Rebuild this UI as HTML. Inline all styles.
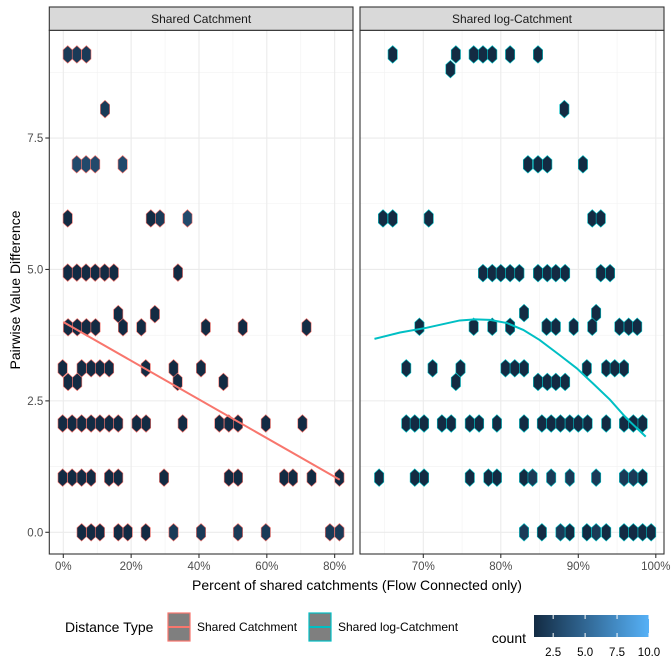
<!DOCTYPE html>
<html><head><meta charset="utf-8"><style>
body{margin:0;background:#fff;}
svg{display:block;font-family:"Liberation Sans",Arial,sans-serif;}
</style></head><body>
<svg id="chart" width="672" height="672" viewBox="0 0 672 672">
<rect width="672" height="672" fill="#fff"/>
<g id="layer"></g>
</svg>
<script>
// ---- data ----
const leftX = [1.3,4.0,6.8, 12.3, 3.95,6.7,9.4,17.5, 1.3,25.8,28.5,36.6,
 1.3,4.0,6.7,9.4,12.2,14.9,33.8, 16.2,27.0,
 1.4,4.1,6.8,9.5,17.6,23.0,42.0,52.9,71.7,
 -0.2,5.4,8.2,10.8,13.5,24.3,32.5,40.6, 1.4,4.1,33.7,47.2,
 -0.2,2.6,5.4,8.2,10.8,13.5,16.2,21.6,24.4,35.2,46.0,48.8,51.5,59.7,70.5,
 -0.2,2.6,5.4,8.2,13.5,16.2,29.7,48.8,51.5,65.1,67.7,73.2,81.4,
 5.4,8.2,10.8,16.2,19.0,24.3,32.5,40.6,51.5,59.7,78.6,81.4];
const leftY = [9.09,9.09,9.09, 8.05, 7.0,7.0,7.0,7.0, 5.97,5.97,5.97,5.97,
 4.94,4.94,4.94,4.94,4.94,4.94,4.94, 4.15,4.15,
 3.9,3.9,3.9,3.9,3.9,3.9,3.9,3.9,3.9,
 3.12,3.12,3.12,3.12,3.12,3.12,3.12,3.12, 2.86,2.86,2.86,2.86,
 2.07,2.07,2.07,2.07,2.07,2.07,2.07,2.07,2.07,2.07,2.07,2.07,2.07,2.07,2.07,
 1.04,1.04,1.04,1.04,1.04,1.04,1.04,1.04,1.04,1.04,1.04,1.04,1.04,
 0,0,0,0,0,0,0,0,0,0,0,0];
const leftCount = [2,2,2, 2, 3,3,3,3, 1,1,2,3,
 1,1,1,1,1,1,1, 1,1,
 1,1,1,1,1,1,1,1,1,
 1,1,1,1,1,1,1,1, 1,1,1,1,
 1,1,1,1,1,1,1,1,1,1,1,1,1,1,1,
 1,1,1,1,1,1,1,1,1,1,1,1,1,
 1,1,1,1,1,1,2,2,2,2,2,2];
const rightX = [66.05,74.2,76.5,77.7,78.9,81.2,84.8, 73.5, 88.2, 83.5,84.8,86.0,90.6,
 64.8,66.05,70.7,91.8,92.9,
 77.7,78.9,80.0,81.2,82.4,84.8,86.0,87.1,88.3,92.9,94.1,
 83.0,92.3,
 69.5,76.5,78.9,81.2,85.9,87.1,89.4,91.8,95.3,96.5,97.6,
 67.8,71.2,74.8,80.6,81.8,83.0,91.1,93.6,94.7,95.9,
 74.2,84.8,86.0,87.1,88.3,
 67.8,68.9,70.1,72.4,73.6,76.0,77.2,79.5,83.0,85.3,86.5,87.7,88.9,90.0,91.2,93.6,95.9,97.1,98.3,
 64.3,68.9,70.1,76.0,78.4,79.5,83.0,84.1,86.5,88.9,92.3,95.9,97.1,98.3,
 83.0,85.3,87.7,88.9,91.1,92.3,93.6,95.9,97.1,98.3,99.4];
const rightY = [9.09,9.09,9.09,9.09,9.09,9.09,9.09, 8.81, 8.05, 7.0,7.0,7.0,7.0,
 5.97,5.97,5.97,5.97,5.97,
 4.93,4.93,4.93,4.93,4.93,4.93,4.93,4.93,4.93,4.93,4.93,
 4.17,4.17,
 3.91,3.91,3.91,3.91,3.91,3.91,3.91,3.91,3.91,3.91,3.91,
 3.12,3.12,3.12,3.12,3.12,3.12,3.12,3.12,3.12,3.12,
 2.86,2.86,2.86,2.86,2.86,
 2.07,2.07,2.07,2.07,2.07,2.07,2.07,2.07,2.07,2.07,2.07,2.07,2.07,2.07,2.07,2.07,2.07,2.07,2.07,
 1.04,1.04,1.04,1.04,1.04,1.04,1.04,1.04,1.04,1.04,1.04,1.04,1.04,1.04,
 0,0,0,0,0,0,0,0,0,0,0];
const rightCount = [1,1,1,1,1,1,1, 1, 1, 1,1,1,1,
 1,1,1,1,1,
 1,1,1,1,1,1,1,1,1,1,1,
 1,1,
 1,1,1,1,1,1,1,1,1,1,1,
 1,1,1,1,1,1,1,1,1,1,
 1,1,1,1,1,
 1,1,1,1,1,1,1,1,1,1,1,1,1,1,1,1,1,1,1,
 1,1,1,1,1,1,1,2,2,2,2,2,2,1,
 2,1,2,1,1,2,1,1,1,1,1];
const fitLeftX = [0, 81.5];
const fitLeftY = [4.0, 1.0];
const loessX = [63.7,67.0,70.4,74.7,76.7,78.6,80.8,82.9,85.0,87.6,89.8,91.9,94.1,96.2,98.7];
const loessY = [3.68,3.8,3.89,4.03,4.05,4.04,3.98,3.85,3.66,3.37,3.12,2.83,2.52,2.17,1.82];
const yTicks = [0,2.5,5,7.5];
const yTickLabels = ["0.0","2.5","5.0","7.5"];
const leftXTicks = [0,20,40,60,80];
const leftXTickLabels = ["0%","20%","40%","60%","80%"];
const rightXTicks = [70,80,90,100];
const rightXTickLabels = ["70%","80%","90%","100%"];
const countTicks = [2.5,5,7.5,10];
const countTickLabels = ["2.5","5.0","7.5","10.0"];

// ---- scales ----
const PT=30.3, PB=554;
const L={x0:49.3,x1:353,sx:p=>63.3+p*3.392};
const R={x0:360,x1:664,sx:p=>423.3+(p-70)*7.75};
const sy=v=>532.3-v*52.57;
const NS="http://www.w3.org/2000/svg";
const layer=document.getElementById('layer');
function mk(tag,attrs,parent){const e=document.createElementNS(NS,tag);for(const k in attrs)e.setAttribute(k,attrs[k]);(parent||layer).appendChild(e);return e;}
function col(c){const t=Math.max(0,Math.min(1,(c-1)/9));const a=[19,43,67],b=[86,177,247];return `rgb(${a.map((v,i)=>Math.round(v+(b[i]-v)*t)).join(',')})`;}
function hex(cx,cy){const w=4.65,h=8.8,s=4.5;return `${cx},${cy-h} ${cx+w},${cy-s} ${cx+w},${cy+s} ${cx},${cy+h} ${cx-w},${cy+s} ${cx-w},${cy-s}`;}

function panel(P,name,title,xs,ys,cs,stroke,majors,minors,xt,xtl){
  const g=mk('g',{});
  
  
  mk('rect',{x:P.x0,y:PT,width:P.x1-P.x0,height:PB-PT,fill:'#fff'},g);
  [1.25,3.75,6.25,8.75].forEach(v=>mk('line',{x1:P.x0,x2:P.x1,y1:sy(v),y2:sy(v),stroke:'#f2f2f2','stroke-width':0.6},g));
  minors.forEach(v=>mk('line',{x1:P.sx(v),x2:P.sx(v),y1:PT,y2:PB,stroke:'#f2f2f2','stroke-width':0.6},g));
  yTicks.forEach(v=>mk('line',{x1:P.x0,x2:P.x1,y1:sy(v),y2:sy(v),stroke:'#ebebeb','stroke-width':1.1},g));
  majors.forEach(v=>mk('line',{x1:P.sx(v),x2:P.sx(v),y1:PT,y2:PB,stroke:'#ebebeb','stroke-width':1.1},g));
  for(let i=0;i<xs.length;i++){
    const h=mk('polygon',{points:hex(P.sx(xs[i]),sy(ys[i])),fill:col(cs[i]),stroke:stroke,'stroke-width':0.6},g);
    
    
  }
  mk('rect',{x:P.x0,y:PT,width:P.x1-P.x0,height:PB-PT,fill:'none',stroke:'#333','stroke-width':1.1},g);
  const st=mk('rect',{x:P.x0,y:7,width:P.x1-P.x0,height:PT-7,fill:'#d9d9d9',stroke:'#333','stroke-width':1.1},g);
  
  
  const tt=mk('text',{x:(P.x0+P.x1)/2,y:23,'text-anchor':'middle','font-size':'12px',fill:'#1a1a1a'},g);
  tt.textContent=title;
  
  
  xt.forEach((v,i)=>{
    mk('line',{x1:P.sx(v),x2:P.sx(v),y1:PB,y2:PB+4,stroke:'#333','stroke-width':1.1},g);
    const t=mk('text',{x:P.sx(v),y:PB+16,'text-anchor':'middle','font-size':'11.5px',fill:'#4d4d4d'},g);
    t.textContent=xtl[i];
    
    
  });
  return g;
}
panel(L,'shared-catchment','Shared Catchment',leftX,leftY,leftCount,'#F8766D',leftXTicks,[10,30,50,70],leftXTicks,leftXTickLabels);
panel(R,'shared-log-catchment','Shared log-Catchment',rightX,rightY,rightCount,'#00BFC4',[70,80,90,100],[65,75,85,95],rightXTicks,rightXTickLabels);

// fit lines
const fl=mk('polyline',{points:fitLeftX.map((x,i)=>L.sx(x)+','+sy(fitLeftY[i])).join(' '),fill:'none',stroke:'#F8766D','stroke-width':2});


const lo=mk('polyline',{points:loessX.map((x,i)=>R.sx(x)+','+sy(loessY[i])).join(' '),fill:'none',stroke:'#00BFC4','stroke-width':2});



// y axis
yTicks.forEach((v,i)=>{
  mk('line',{x1:L.x0-4,x2:L.x0,y1:sy(v),y2:sy(v),stroke:'#333','stroke-width':1.1});
  const t=mk('text',{x:L.x0-6,y:sy(v)+4,'text-anchor':'end','font-size':'11.5px',fill:'#4d4d4d'});
  t.textContent=yTickLabels[i];
  
  
});

// ---- titles & legend ----
const svg=document.getElementById('chart');
function T(x,y,txt,size,anchor,extra){const t=document.createElementNS(NS,'text');t.setAttribute('x',x);t.setAttribute('y',y);t.setAttribute('font-size',size);t.setAttribute('text-anchor',anchor);t.setAttribute('fill','#000');if(extra)t.setAttribute('transform',extra);t.textContent=txt;svg.appendChild(t);return t;}
let t;
t=T(20,290,'Pairwise Value Difference','14px','middle','rotate(-90 20 290)');


t=T(357,590,'Percent of shared catchments (Flow Connected only)','14px','middle');


t=T(65,632,'Distance Type','14px','start');


const legendKeys=[[168,'#F8766D','Shared Catchment',197],[309,'#00BFC4','Shared log-Catchment',338]];
legendKeys.forEach(k=>{
  const g=document.createElementNS(NS,'g');svg.appendChild(g);
  
  
  mk('rect',{x:k[0],y:613,width:22,height:28,fill:'#7f7f7f',stroke:k[1],'stroke-width':1.2},g);
  mk('line',{x1:k[0],x2:k[0]+22,y1:627,y2:627,stroke:k[1],'stroke-width':2},g);
  const tt=mk('text',{x:k[3],y:631,'font-size':'12px',fill:'#000'},g);
  tt.textContent=k[2];
});
const defs=mk('defs',{},svg);
const lg=mk('linearGradient',{id:'cg',x1:0,x2:1,y1:0,y2:0},defs);
mk('stop',{offset:'0',"stop-color":'#132B43'},lg);
mk('stop',{offset:'1',"stop-color":'#56B1F7'},lg);
const cb=mk('rect',{x:534,y:615,width:115,height:22,fill:'url(#cg)'},svg);


const cx=v=>534+(v-1)*(115/9);
countTicks.forEach((v,i)=>{
  mk('line',{x1:cx(v),x2:cx(v),y1:615,y2:619,stroke:'#fff','stroke-width':1},svg);
  mk('line',{x1:cx(v),x2:cx(v),y1:633,y2:637,stroke:'#fff','stroke-width':1},svg);
  const tt=mk('text',{x:cx(v),y:656,'text-anchor':'middle','font-size':'11.5px',fill:'#000'},svg);
  tt.textContent=countTickLabels[i];
  
  
});
t=T(526,643,'count','14px','end');


</script>
</body></html>
